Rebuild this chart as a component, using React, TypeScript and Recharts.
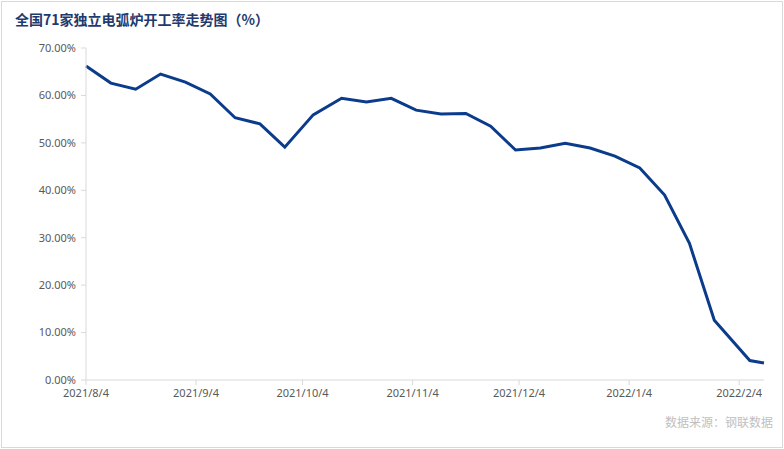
import { LineChart, Line, XAxis, YAxis } from "recharts";

// weekly observation dates and utilisation rate (%)
const dates = [
  "2021/8/4", "2021/8/11", "2021/8/18", "2021/8/25", "2021/9/1", "2021/9/8",
  "2021/9/15", "2021/9/22", "2021/9/29", "2021/10/7", "2021/10/15", "2021/10/22",
  "2021/10/29", "2021/11/5", "2021/11/12", "2021/11/19", "2021/11/26", "2021/12/3",
  "2021/12/10", "2021/12/17", "2021/12/24", "2021/12/31", "2022/1/7", "2022/1/14",
  "2022/1/21", "2022/1/28", "2022/2/7", "2022/2/11",
];
const rates = [
  66.2, 62.6, 61.3, 64.5, 62.8, 60.3, 55.3, 54.0, 49.1, 55.9, 59.4, 58.6,
  59.4, 56.9, 56.1, 56.2, 53.5, 48.5, 48.9, 49.9, 48.9, 47.2, 44.7, 39.0,
  28.8, 12.6, 4.1, 3.6,
];
const xTicks = [
  "2021/8/4", "2021/9/4", "2021/10/4", "2021/11/4", "2021/12/4", "2022/1/4", "2022/2/4",
];
const yTicks = [0, 10, 20, 30, 40, 50, 60, 70];

const DAY = 86400000;
const toTime = (s: string) => {
  const [y, m, d] = s.split("/").map(Number);
  return Date.UTC(y, m - 1, d);
};
const base = toTime(dates[0]);
const toDay = (s: string) => Math.round((toTime(s) - base) / DAY);

const data = dates.map((d, i) => ({ day: toDay(d), rate: rates[i] }));
const tickDays = xTicks.map(toDay);
const tickLabel = (v: number) => xTicks[tickDays.indexOf(v)] ?? "";

const tickStyle = { fontSize: 11, fontFamily: "Noto Sans", fill: "#595959" };

export default function App() {
  return (
    <div
      style={{
        position: "absolute",
        left: 0,
        top: 0,
        width: 784,
        height: 449,
        background: "#fff",
      }}
    >
      <LineChart
        width={784}
        height={449}
        data={data}
        margin={{ top: 48, right: 20, bottom: 39, left: 0 }}
      >
        <XAxis
          dataKey="day"
          type="number"
          domain={[0, data[data.length - 1].day]}
          ticks={tickDays}
          tickFormatter={tickLabel}
          tick={tickStyle}
          stroke="#d9d9d9"
          tickSize={5}
          tickMargin={4}
          interval={0}
          height={30}
        />
        <YAxis
          domain={[0, 70]}
          ticks={yTicks}
          tickFormatter={(v: number) => v.toFixed(2) + "%"}
          tick={tickStyle}
          stroke="#d9d9d9"
          tickSize={5}
          tickMargin={5}
          width={86}
          interval={0}
        />
        <Line
          dataKey="rate"
          type="linear"
          stroke="#0b3c8c"
          strokeWidth={3}
          dot={false}
          isAnimationActive={false}
        />
      </LineChart>
      <div
        style={{
          position: "absolute",
          left: 15,
          top: 10,
          fontSize: 14,
          lineHeight: "18px",
          fontWeight: 700,
          color: "#1f3a6e",
          fontFamily: "Noto Sans CJK SC",
          whiteSpace: "nowrap",
        }}
      >
        全国71家独立电弧炉开工率走势图（%）
      </div>
      <div
        style={{
          position: "absolute",
          right: 11,
          top: 414,
          fontSize: 12,
          lineHeight: "16px",
          color: "#bfbfbf",
          fontFamily: "Noto Sans CJK SC",
          whiteSpace: "nowrap",
        }}
      >
        数据来源：钢联数据
      </div>
      <div
        style={{
          position: "absolute",
          left: 1,
          top: 1,
          width: 782,
          height: 447,
          boxSizing: "border-box",
          border: "1px solid #d9d9d9",
          pointerEvents: "none",
        }}
      />
    </div>
  );
}
